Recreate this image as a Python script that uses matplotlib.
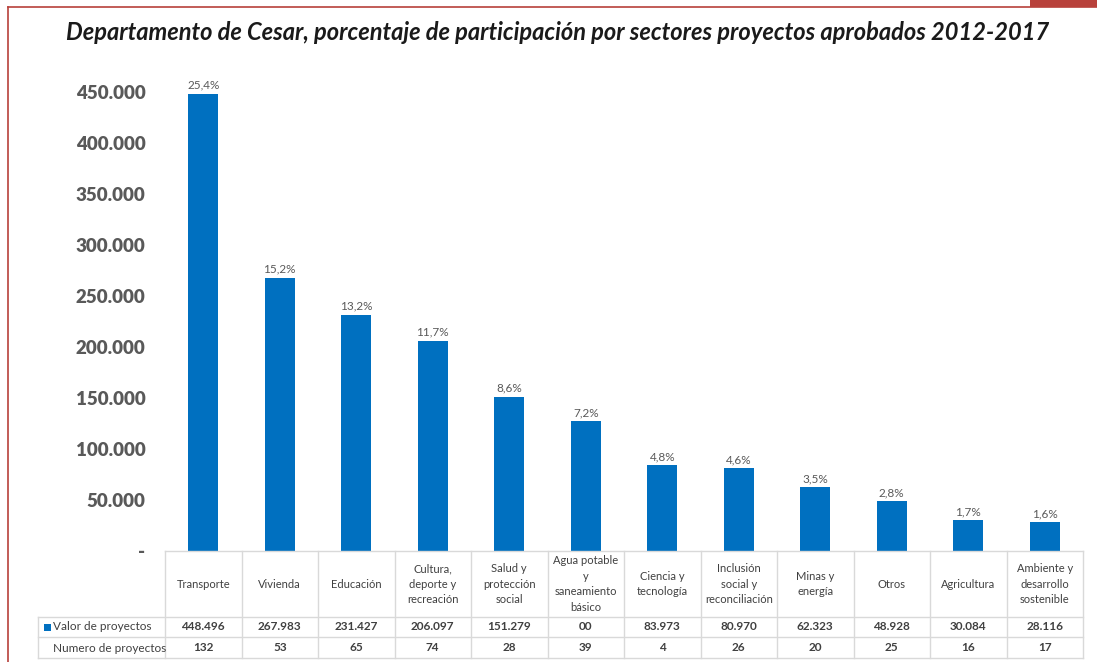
import matplotlib
matplotlib.use('Agg')
from matplotlib import pyplot as plt
from matplotlib.patches import Rectangle
from matplotlib.lines import Line2D

# Data
sectores = ['Transporte', 'Vivienda', 'Educación', 'Cultura,\ndeporte y\nrecreación',
            'Salud y\nprotección\nsocial', 'Agua potable\ny\nsaneamiento\nbásico',
            'Ciencia y\ntecnología', 'Inclusión\nsocial y\nreconciliación',
            'Minas y\nenergía', 'Otros', 'Agricultura',
            'Ambiente y\ndesarrollo\nsostenible']
valor = [448496, 267983, 231427, 206097, 151279, 127000,
         83973, 80970, 62323, 48928, 30084, 28116]
valor_txt = ['448.496', '267.983', '231.427', '206.097', '151.279', '00',
             '83.973', '80.970', '62.323', '48.928', '30.084', '28.116']
numero = [132, 53, 65, 74, 28, 39, 4, 26, 20, 25, 16, 17]
porcentaje = ['25,4%', '15,2%', '13,2%', '11,7%', '8,6%', '7,2%',
              '4,8%', '4,6%', '3,5%', '2,8%', '1,7%', '1,6%']
yticks = [0, 50000, 100000, 150000, 200000, 250000, 300000, 350000, 400000, 450000]

W, H = 1097, 662
blue = '#0070c0'
red = '#b8413b'
grid = '#d9d9d9'
txt = '#404040'
plt.rcParams['font.family'] = ['Lato', 'DejaVu Sans']

fig = plt.figure(figsize=(W / 100, H / 100), dpi=100)

# Red frame
fig.add_artist(Line2D([8 / W, 8 / W], [0, 1 - 7 / H], color=red, lw=1.2))
fig.add_artist(Line2D([8 / W, 1], [1 - 7 / H, 1 - 7 / H], color=red, lw=1.2))
fig.add_artist(Rectangle((1030 / W, 1 - 7 / H), 67 / W, 7 / H, color=red, lw=0))

fig.text(558 / W, 1 - 33 / H,
         'Departamento de Cesar, porcentaje de participación por sectores proyectos aprobados 2012-2017',
         ha='center', va='center', fontsize=17, fontweight='bold', style='italic', color='#1a1a1a')

ymax = 460000
x0, x1 = 165, 1083
ybot = 551
ytop = ybot - 459 * ymax / 450000
ax = fig.add_axes([x0 / W, 1 - ybot / H, (x1 - x0) / W, (ybot - ytop) / H])

x = range(len(sectores))
ax.bar(x, valor, width=0.39, color=blue)
for i, v in enumerate(valor):
    ax.text(i, v + 3000, porcentaje[i], ha='center', va='bottom', fontsize=8.5, color='#595959')

ax.set_xlim(-0.5, len(sectores) - 0.5)
ax.set_ylim(0, ymax)
ax.set_yticks(yticks)
ax.set_yticklabels(['-'] + ['{:,}'.format(t).replace(',', '.') for t in yticks[1:]])
ax.tick_params(axis='y', length=0, pad=14, labelsize=13.5, labelcolor='#595959')
for lab in ax.get_yticklabels():
    lab.set_fontweight('heavy')
ax.set_xticks([])
for s in ax.spines.values():
    s.set_visible(False)

# Data table under the bars
tr = ax.get_xaxis_transform()
ph = ybot - ytop
def yfrac(py):
    return -(py - ybot) / ph

unit = (x1 - x0) / len(sectores)
xl = -0.5 - (x0 - 38) / unit
r0, r1, r2, r3 = yfrac(551), yfrac(617), yfrac(637), yfrac(658)
kw = dict(transform=tr, clip_on=False, color=grid, lw=1)
ax.add_line(Line2D([-0.5, 11.5], [r0, r0], **kw))
for r in (r1, r2, r3):
    ax.add_line(Line2D([xl, 11.5], [r, r], **kw))
ax.add_line(Line2D([xl, xl], [r1, r3], **kw))
for i in range(len(sectores) + 1):
    ax.add_line(Line2D([i - 0.5, i - 0.5], [r0, r3], **kw))

for i, s in enumerate(sectores):
    ax.text(i, (r0 + r1) / 2, s, transform=tr, ha='center', va='center',
            fontsize=8, color=txt, linespacing=1.5)
    ax.text(i, (r1 + r2) / 2, valor_txt[i], transform=tr, ha='center', va='center',
            fontsize=8.5, fontweight='bold', color=txt)
    ax.text(i, (r2 + r3) / 2, str(numero[i]), transform=tr, ha='center', va='center',
            fontsize=8.5, fontweight='bold', color=txt)

fig.add_artist(Rectangle((44 / W, 1 - 631 / H), 7 / W, 7 / H, color=blue, lw=0))
fig.text(53 / W, 1 - 627 / H, 'Valor de proyectos', ha='left', va='center',
         fontsize=8.5, color=txt)
fig.text(53 / W, 1 - 648 / H, 'Numero de proyectos', ha='left', va='center',
         fontsize=8.5, color=txt)

fig.savefig('out.png', dpi=100)
